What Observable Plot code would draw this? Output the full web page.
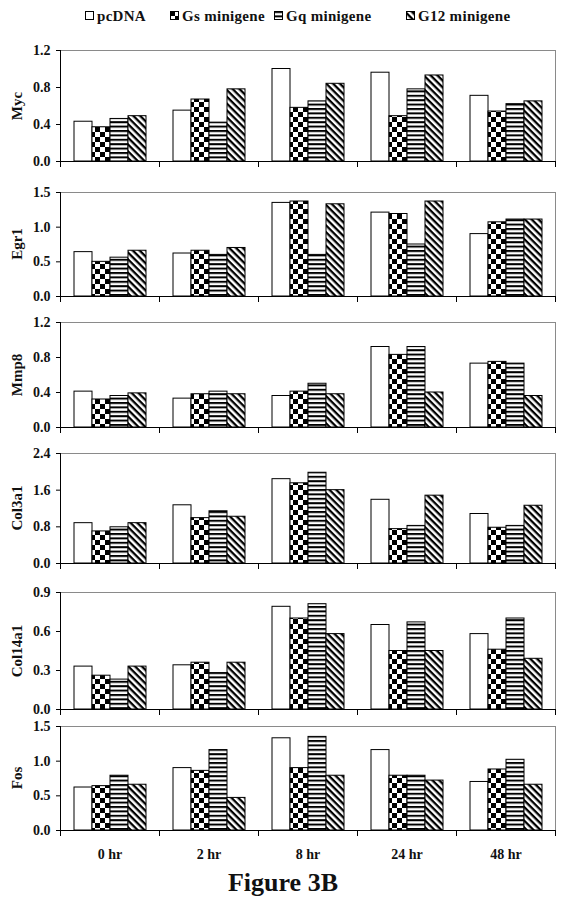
<!DOCTYPE html>
<html><head><meta charset="utf-8">
<script src="https://cdn.jsdelivr.net/npm/d3@7"></script>
<script src="https://cdn.jsdelivr.net/npm/@observablehq/plot@0.6"></script>
<style>
body{margin:0;background:#fff;}
#root{position:relative;width:566px;height:910px;font-family:"Liberation Serif","Times New Roman",serif;font-weight:bold;color:#111;overflow:hidden;}
.leg{position:absolute;top:7px;font-family:"Liberation Serif","Times New Roman",serif;font-weight:bold;font-size:15px;letter-spacing:0.3px;display:flex;align-items:center;white-space:nowrap;line-height:18px;}
.ytitle{position:absolute;font-family:"Liberation Serif","Times New Roman",serif;font-size:15px;transform:translate(-50%,-50%) rotate(-90deg);white-space:nowrap;line-height:16px;}
.panel{position:absolute;left:0;}
.fig{position:absolute;top:868px;left:0;width:566px;text-align:center;font-family:"Liberation Serif","Times New Roman",serif;font-size:26px;line-height:30px;}
</style>
</head>
<body>
<svg width="0" height="0" style="position:absolute">
<defs>
<pattern id="checker" patternUnits="userSpaceOnUse" width="10" height="10">
 <rect width="10" height="10" fill="#fff"/>
 <rect width="5" height="5" fill="#000"/>
 <rect x="5" y="5" width="5" height="5" fill="#000"/>
</pattern>
<pattern id="hstripe" patternUnits="userSpaceOnUse" width="10" height="4.4">
 <rect width="10" height="4.4" fill="#fff"/>
 <rect width="10" height="2" fill="#000"/>
</pattern>
<pattern id="diag" patternUnits="userSpaceOnUse" width="10" height="4.8" patternTransform="rotate(45)">
 <rect width="10" height="4.8" fill="#fff"/>
 <rect width="10" height="2.3" fill="#000"/>
</pattern>
</defs></svg>
<div id="root"></div>
<script>
// ---- data ----
const times = ["0 hr", "2 hr", "8 hr", "24 hr", "48 hr"];
const series = ["pcDNA", "Gs minigene", "Gq minigene", "G12 minigene"];
const genes = ["Myc", "Egr1", "Mmp8", "Col3a1", "Col14a1", "Fos"];

// values per time point: [pcDNA, Gs, Gq, G12]
const mycValues = [[0.43, 0.37, 0.46, 0.49], [0.55, 0.67, 0.42, 0.78], [1.00, 0.58, 0.65, 0.84], [0.96, 0.49, 0.78, 0.93], [0.71, 0.54, 0.62, 0.65]];
const egr1Values = [[0.64, 0.50, 0.56, 0.66], [0.62, 0.66, 0.60, 0.70], [1.35, 1.37, 0.60, 1.33], [1.21, 1.19, 0.75, 1.37], [0.90, 1.07, 1.11, 1.11]];
const mmp8Values = [[0.41, 0.32, 0.36, 0.39], [0.33, 0.38, 0.41, 0.38], [0.36, 0.41, 0.50, 0.38], [0.92, 0.83, 0.92, 0.40], [0.73, 0.75, 0.73, 0.36]];
const col3a1Values = [[0.88, 0.70, 0.79, 0.88], [1.27, 0.99, 1.14, 1.02], [1.84, 1.75, 1.98, 1.60], [1.39, 0.75, 0.82, 1.48], [1.08, 0.78, 0.82, 1.26]];
const col14a1Values = [[0.33, 0.26, 0.23, 0.33], [0.34, 0.36, 0.28, 0.36], [0.79, 0.70, 0.81, 0.58], [0.65, 0.45, 0.67, 0.45], [0.58, 0.46, 0.70, 0.39]];
const fosValues = [[0.62, 0.64, 0.79, 0.66], [0.90, 0.86, 1.16, 0.47], [1.33, 0.90, 1.35, 0.79], [1.16, 0.79, 0.79, 0.72], [0.70, 0.88, 1.02, 0.66]];

// y-axis tick labels per panel
const mycTicks = [0, 0.4, 0.8, 1.2];
const egr1Ticks = [0, 0.5, 1.0, 1.5];
const mmp8Ticks = [0, 0.4, 0.8, 1.2];
const col3a1Ticks = [0, 0.8, 1.6, 2.4];
const col14a1Ticks = [0, 0.3, 0.6, 0.9];
const fosTicks = [0, 0.5, 1.0, 1.5];

const allValues = [mycValues, egr1Values, mmp8Values, col3a1Values, col14a1Values, fosValues];
const allTicks = [mycTicks, egr1Ticks, mmp8Ticks, col3a1Ticks, col14a1Ticks, fosTicks];

// ---- layout / style ----
const fills = ["#ffffff", "url(#checker)", "url(#hstripe)", "url(#diag)"];
const panelBox = [[50, 161], [192, 296], [322, 427], [453, 563], [592, 709], [726, 830]];
const legendLeft = [85, 170, 274, 406];

const root = document.getElementById("root");

// legend
series.forEach((s, i) => {
  const item = document.createElement("div");
  item.className = "leg";
  item.style.left = legendLeft[i] + "px";
  const sw = document.createElementNS("http://www.w3.org/2000/svg", "svg");
  sw.setAttribute("width", 10); sw.setAttribute("height", 10);
  sw.style.marginRight = "2px";
  sw.innerHTML = `<rect x="0.5" y="0.5" width="8" height="8" fill="${fills[i]}" stroke="#000"/>`;
  item.appendChild(sw);
  const span = document.createElement("span");
  span.textContent = s;
  item.appendChild(span);
  root.appendChild(item);
});

genes.forEach((gene, gi) => {
  const rows = [];
  allValues[gi].forEach((vals, ti) => vals.forEach((v, si) => rows.push({time: times[ti], series: series[si], value: v})));
  const ticks = allTicks[gi];
  const [top, bottom] = panelBox[gi];
  const h = bottom - top;
  const last = gi === genes.length - 1;
  const mt = 8, mb = last ? 40 : 8;
  const plot = Plot.plot({
    width: 566,
    height: h + mt + mb,
    marginLeft: 60, marginRight: 11, marginTop: mt, marginBottom: mb,
    style: {fontFamily: '"Liberation Serif", "Times New Roman", serif', fontSize: "14px", fontWeight: "bold", color: "#111", background: "transparent", overflow: "visible"},
    fx: last ? {domain: times, padding: 0, label: null} : {domain: times, padding: 0, label: null, axis: null},
    x: {domain: series, paddingInner: 0, paddingOuter: 0.73, axis: null},
    y: {domain: [0, ticks[ticks.length - 1]], label: null},
    color: {domain: series, range: fills},
    marks: [
      Plot.frame({anchor: "top", stroke: "#8a8a8a"}),
      Plot.frame({anchor: "right", stroke: "#8a8a8a", facetAnchor: "right"}),
      Plot.barY(rows, {fx: "time", x: "series", y: "value", fill: "series", stroke: "#000", strokeWidth: 1}),
      Plot.frame({anchor: "left", stroke: "#000", facetAnchor: "left"}),
      Plot.frame({anchor: "bottom", stroke: "#000"}),
      Plot.frame({anchor: "left", stroke: "#000", insetTop: h, insetBottom: -5}),
      Plot.frame({anchor: "right", stroke: "#000", insetTop: h, insetBottom: -5, facetAnchor: "right"}),
      Plot.axisY({ticks: ticks, tickFormat: d3.format(".1f"), tickSize: 4, tickPadding: 6, label: null, stroke: "#000"}),
      last ? Plot.axisFx({anchor: "bottom", tickSize: 0, tickPadding: 19, label: null, fontSize: 14}) : null
    ]
  });
  plot.classList.add("panel");
  plot.style.top = (top - mt) + "px";
  root.appendChild(plot);

  const t = document.createElement("div");
  t.className = "ytitle";
  t.textContent = gene;
  t.style.left = "17px";
  t.style.top = ((top + bottom) / 2) + "px";
  root.appendChild(t);
});

const fig = document.createElement("div");
fig.className = "fig";
fig.textContent = "Figure 3B";
root.appendChild(fig);
</script>
</body></html>
